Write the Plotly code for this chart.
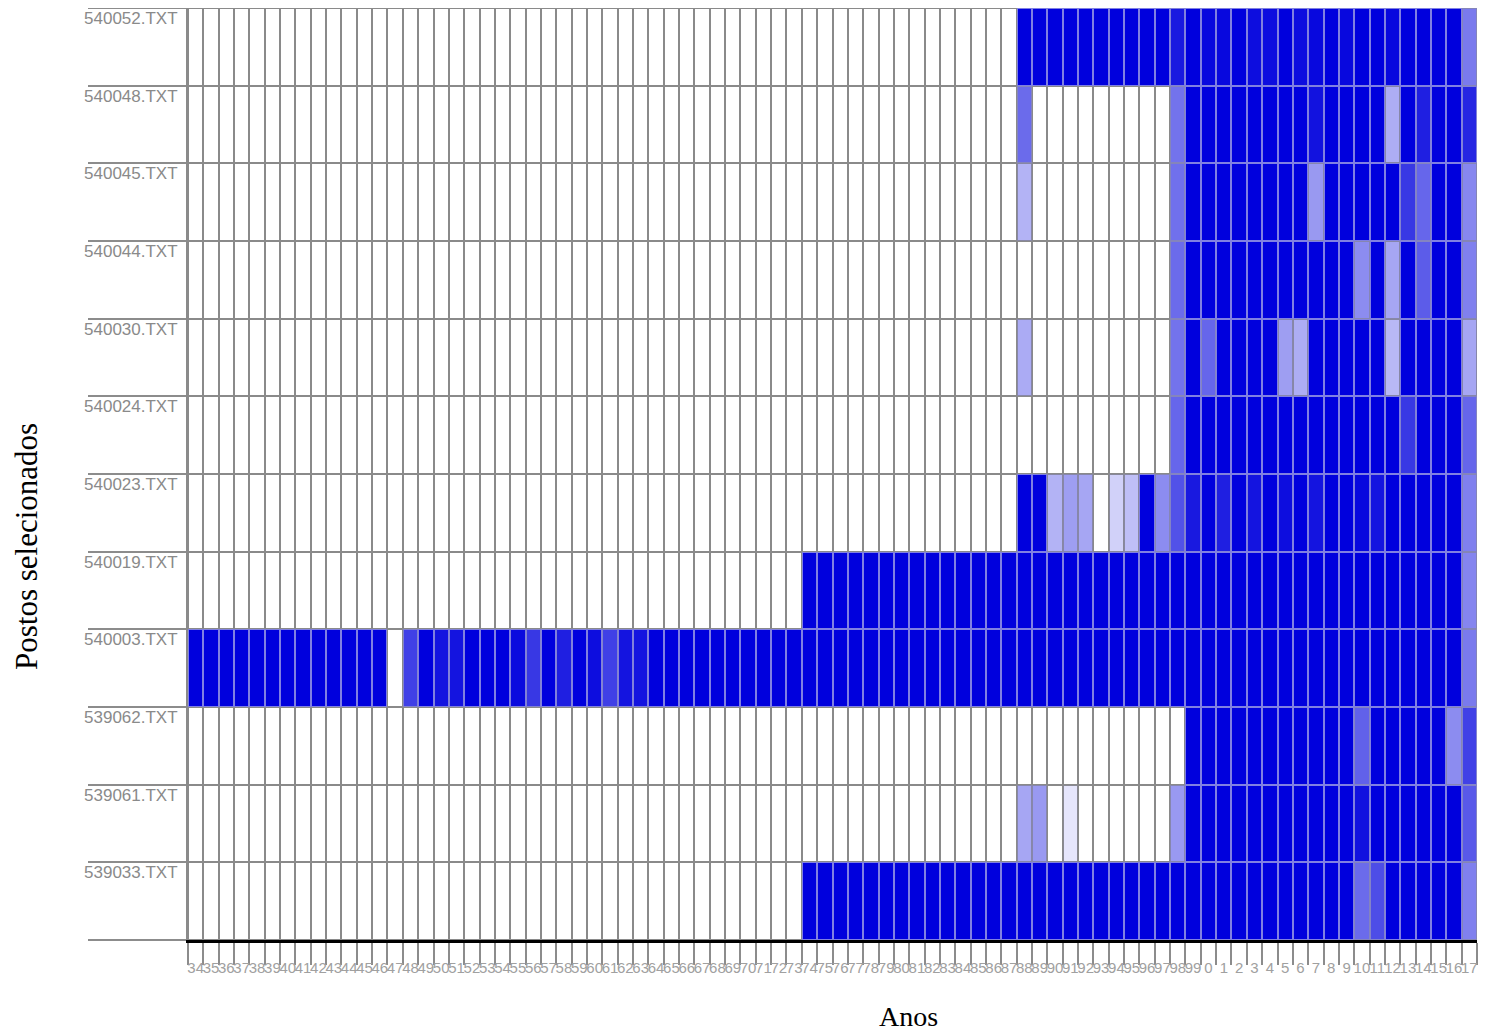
import plotly.graph_objects as go

# ---------------- data ----------------
years = list(range(1934, 2018))
year_labels = [str(y % 100) for y in years]

stations = ["540052.TXT", "540048.TXT", "540045.TXT", "540044.TXT", "540030.TXT",
            "540024.TXT", "540023.TXT", "540019.TXT", "540003.TXT", "539062.TXT",
            "539061.TXT", "539033.TXT"]

# % of available data per year; each series starts at its first year (earlier years: no data)
first_year = {"540052.TXT": 1988, "540048.TXT": 1988, "540045.TXT": 1988, "540044.TXT": 1988,
              "540030.TXT": 1988, "540024.TXT": 1988, "540023.TXT": 1988, "540019.TXT": 1974,
              "540003.TXT": 1934, "539062.TXT": 1988, "539061.TXT": 1988, "539033.TXT": 1974}

s540052 = [100, 100, 100, 100, 100, 100, 100, 100, 100, 100,
           90, 100, 97, 97, 100, 95, 95, 100, 95, 97,
           100, 97, 100, 100, 97, 100, 100, 100, 100, 52]
s540048 = [58, 0, 0, 0, 0, 0, 0, 0, 0, 0,
           55, 100, 100, 100, 100, 100, 100, 100, 100, 93,
           100, 100, 100, 100, 32, 100, 88, 100, 100, 85]
s540045 = [30, 0, 0, 0, 0, 0, 0, 0, 0, 0,
           56, 100, 100, 100, 100, 100, 100, 100, 100, 40,
           100, 100, 100, 100, 100, 78, 60, 100, 100, 47]
s540044 = [0, 0, 0, 0, 0, 0, 0, 0, 0, 0,
           58, 100, 100, 100, 100, 100, 100, 100, 100, 100,
           100, 100, 45, 100, 35, 100, 64, 100, 100, 50]
s540030 = [33, 0, 0, 0, 0, 0, 0, 0, 0, 0,
           55, 100, 60, 100, 100, 100, 100, 38, 32, 100,
           100, 100, 100, 100, 28, 100, 100, 100, 100, 35]
s540024 = [0, 0, 0, 0, 0, 0, 0, 0, 0, 0,
           60, 100, 100, 100, 100, 100, 100, 100, 100, 100,
           100, 100, 100, 100, 100, 78, 100, 100, 100, 60]
s540023 = [100, 100, 30, 38, 35, 0, 18, 25, 100, 45,
           68, 90, 100, 88, 100, 92, 100, 95, 100, 92,
           100, 100, 97, 92, 100, 100, 100, 100, 100, 50]
s540019 = [100, 100, 100, 100, 100, 100, 100, 100, 100, 100,
           100, 100, 100, 100, 100, 100, 100, 100, 100, 100,
           100, 100, 100, 100, 100, 100, 100, 100, 100, 100,
           100, 100, 100, 100, 100, 100, 100, 100, 100, 100,
           100, 100, 100, 48]
s540003 = [100, 100, 100, 100, 100, 100, 100, 100, 100, 100,
           100, 100, 100, 0, 75, 100, 92, 92, 100, 100,
           100, 96, 78, 100, 88, 100, 95, 75, 92, 92,
           100, 100, 100, 100, 100, 100, 100, 100, 100, 100,
           100, 100, 100, 100, 100, 100, 100, 100, 100, 100,
           100, 100, 100, 100, 100, 100, 100, 100, 100, 100,
           100, 100, 100, 100, 100, 100, 100, 100, 100, 100,
           100, 100, 100, 100, 100, 100, 100, 100, 100, 100,
           100, 100, 100, 52]
s539062 = [0, 0, 0, 0, 0, 0, 0, 0, 0, 0,
           0, 100, 100, 100, 100, 100, 100, 100, 100, 100,
           100, 100, 62, 100, 100, 100, 100, 100, 45, 75]
s539061 = [35, 40, 0, 10, 0, 0, 0, 0, 0, 0,
           40, 100, 100, 100, 100, 100, 100, 100, 100, 100,
           100, 100, 93, 100, 100, 100, 100, 100, 100, 65]
s539033 = [100, 100, 100, 100, 100, 100, 100, 100, 100, 100,
           100, 100, 100, 100, 100, 100, 100, 100, 100, 100,
           100, 100, 100, 100, 100, 100, 100, 100, 100, 100,
           100, 100, 100, 100, 100, 100, 58, 70, 100, 100,
           100, 100, 100, 50]

series = {"540052.TXT": s540052, "540048.TXT": s540048, "540045.TXT": s540045,
          "540044.TXT": s540044, "540030.TXT": s540030, "540024.TXT": s540024,
          "540023.TXT": s540023, "540019.TXT": s540019, "540003.TXT": s540003,
          "539062.TXT": s539062, "539061.TXT": s539061, "539033.TXT": s539033}

# build matrix (rows = stations, cols = years); years before first record = 0 (no data)
z = []
for st in stations:
    vals = series[st]
    fy = first_year[st]
    row = []
    for y in years:
        k = y - fy
        row.append(vals[k] if 0 <= k < len(vals) else 0)
    z.append(row)

rows_idx = list(range(len(stations)))

# ---------------- figure ----------------
# page has an 8px body margin; positions below are in figure pixels
W, H = 1472, 1024
ML, MR, MT, MB = 180, 3, 0, 92
pw = W - ML - MR
ph = H - MT - MB

# under-layer: colour of the thin cell borders (grey on empty cells, lavender on filled ones)
border_layer = go.Heatmap(
    z=z, x=years, y=rows_idx,
    colorscale=[[0, "#8a8a8a"], [1, "#8080e2"]],
    zmin=0, zmax=100, showscale=False, hoverinfo="skip",
)
cells = go.Heatmap(
    z=z, x=years, y=rows_idx,
    colorscale=[[0, "#ffffff"], [1, "#0000dd"]],
    zmin=0, zmax=100, showscale=False,
    xgap=2, ygap=2, hoverinfo="skip",
)
fig = go.Figure([border_layer, cells])

row_px = ph / len(stations)
label_offset = 10 / row_px  # label sits just below the top boundary of its row

fig.update_layout(
    width=W, height=H,
    margin=dict(l=ML, r=MR, t=MT, b=MB),
    paper_bgcolor="white",
    plot_bgcolor="#8a8a8a",
    showlegend=False,
    xaxis=dict(
        range=[years[0] - 0.5, years[-1] + 0.5],
        tickmode="array", tickvals=years, ticktext=year_labels,
        tickangle=0, ticks="", showgrid=False, zeroline=False,
        showline=True, linecolor="black", linewidth=3,
        tickfont=dict(family="Liberation Sans, Arial", size=15, color="#a0a0a0"),
        ticklabelstandoff=12,
        minor=dict(ticks="outside", tick0=years[0] - 0.5, dtick=1, ticklen=22,
                   tickcolor="#8c8c8c", tickwidth=2, showgrid=False),
        fixedrange=True,
    ),
    yaxis=dict(
        range=[len(stations) - 0.5, -0.5],
        tickmode="array", tickvals=[i - 0.5 + label_offset for i in rows_idx],
        ticktext=stations, ticks="", showgrid=False, zeroline=False,
        showline=True, linecolor="#8a8a8a", linewidth=2,
        tickfont=dict(family="Liberation Sans, Arial", size=17, color="#8a8a8a"),
        ticklabelstandoff=5,
        minor=dict(ticks="outside", tick0=-0.5, dtick=1, ticklen=98,
                   tickcolor="#8c8c8c", tickwidth=2, showgrid=False),
        fixedrange=True,
    ),
    annotations=[
        dict(text="Postos selecionados", textangle=-90, showarrow=False,
             xref="paper", yref="paper",
             x=(26 - 8 - ML) / pw, y=1 - (547 - 8 - MT) / ph,
             xanchor="center", yanchor="middle",
             font=dict(family="Liberation Serif, Times New Roman", size=31, color="black")),
        dict(text="Anos", showarrow=False, xref="paper", yref="paper",
             x=(908 - 8 - ML) / pw, y=1 - (1016 - 8 - MT) / ph,
             xanchor="center", yanchor="middle",
             font=dict(family="Liberation Serif, Times New Roman", size=28, color="black")),
    ],
)

fig.write_html("out.html")
